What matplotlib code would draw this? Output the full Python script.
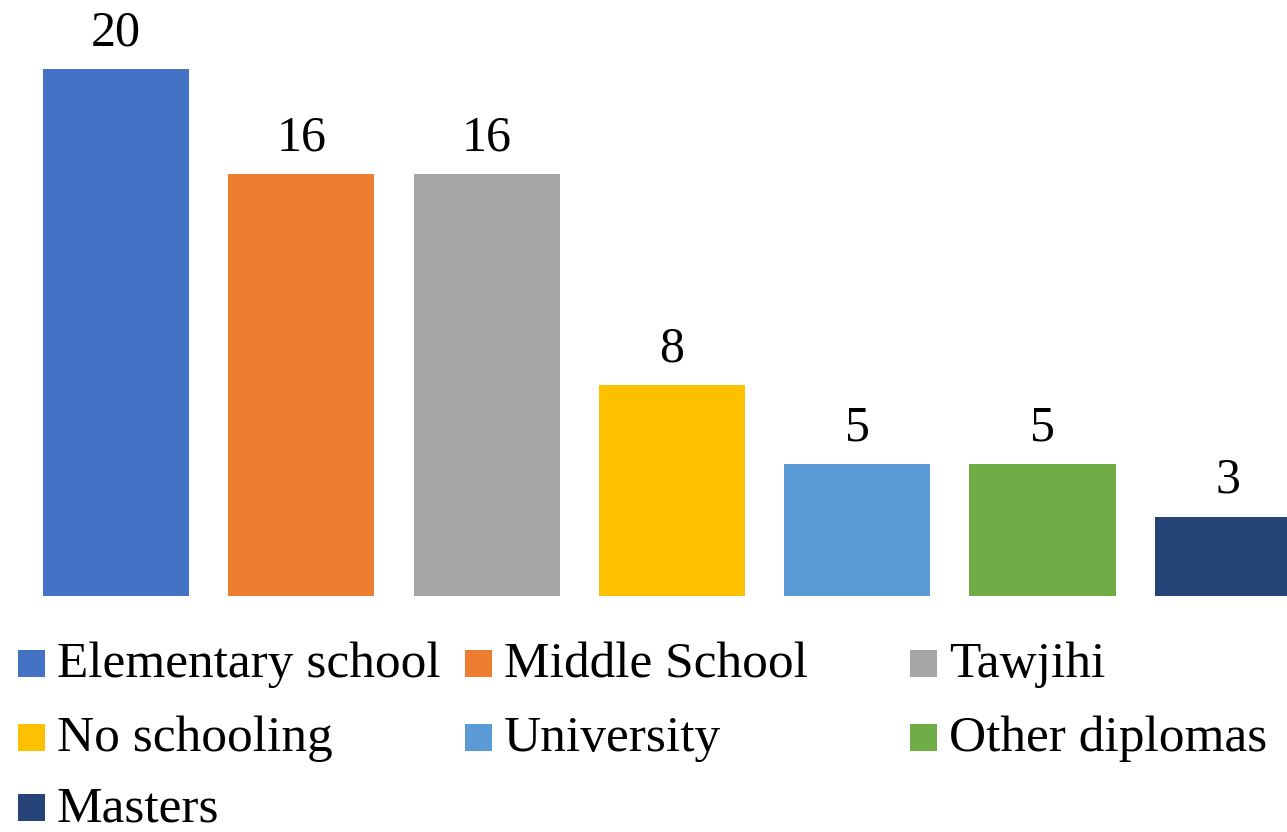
import matplotlib
matplotlib.use("Agg")
import matplotlib.pyplot as plt
from matplotlib.patches import Rectangle

categories = ["Elementary school", "Middle School", "Tawjihi", "No schooling",
              "University", "Other diplomas", "Masters"]
values = [20, 16, 16, 8, 5, 5, 3]
colors = ["#4472C4", "#ED7D31", "#A5A5A5", "#FFC000", "#5B9BD5", "#70AD47", "#264478"]

W, H = 1287, 832
plt.rcParams["font.family"] = ["Liberation Serif", "DejaVu Serif"]
fig = plt.figure(figsize=(W / 100, H / 100), dpi=100)

# axes in pixel terms: category pitch ~185.3 px, first centre at x=116
pitch = 185.3
left_px = 116 - pitch / 2
base_px = 596
ppu = 26.35
ymax = 22
ax = fig.add_axes([left_px / W, (H - base_px) / H, 7 * pitch / W, ymax * ppu / H])
x = list(range(len(values)))
bars = ax.bar(x, values, width=0.788, color=colors)
ax.set_xlim(-0.5, 6.5)
ax.set_ylim(0, ymax)
ax.axis("off")

for xi, v in zip(x, values):
    ax.annotate(str(v), (xi, v), xytext=(0, 24 * 0.72), textcoords="offset points",
                ha="center", va="baseline", fontsize=36, color="black")

# legend laid out in three columns below the plot
col_x = [18, 465, 910]
row_base = [677, 751, 821]
sq = 27
for i, (lab, c) in enumerate(zip(categories, colors)):
    r, k = divmod(i, 3)
    x0 = col_x[k]
    yb = row_base[r]
    fig.patches.append(Rectangle((x0 / W, (H - yb) / H), sq / W, sq / H,
                                 transform=fig.transFigure, facecolor=c, edgecolor="none"))
    fig.text((x0 + 39) / W, (H - yb) / H, lab, ha="left", va="baseline",
             fontsize=37, color="black")

fig.savefig("out.png", dpi=100, facecolor="white")
